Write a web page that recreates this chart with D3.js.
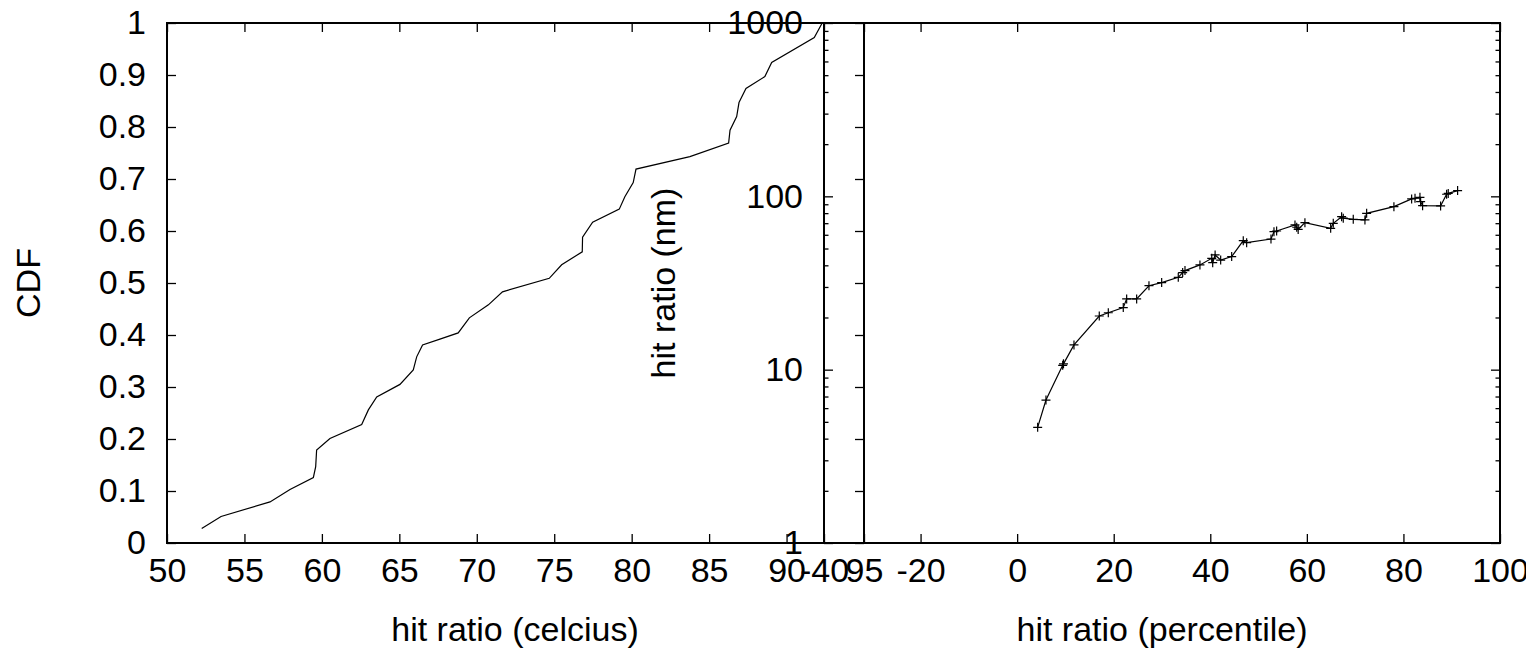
<!DOCTYPE html>
<html lang="en">
<head>
    <meta charset="UTF-8">
    <title>hit ratio</title>
    <script src="https://d3js.org/d3.v7.min.js"></script>
    <style>
        body, html {
            margin: 0;
            padding: 0;
            background: #fff;
            overflow: hidden;
        }
        svg text {
            font-family: "Liberation Sans", Arial, sans-serif;
            fill: #000;
        }
        .axis path.domain { display: none; }
        .axis line { stroke: #000; stroke-width: 1.3; }
    </style>
</head>
<body>
<div id="chart"></div>
<script>
    // left panel: CDF of temperature
    var cdfTemp = [52.24, 53.49, 56.65, 57.94, 59.45, 59.6, 59.66, 60.52, 62.57, 63.0,
        63.54, 65.04, 65.9, 66.12, 66.5, 67.62, 68.8, 69.52, 70.75, 71.66,
        74.68, 75.48, 76.81, 76.83, 77.48, 79.2, 79.56, 80.1, 80.28, 83.76,
        86.26, 86.35, 86.78, 86.93, 87.38, 88.6, 89.04, 91.79, 92.3];
    var cdfValue = [0.028, 0.051, 0.079, 0.103, 0.126, 0.147, 0.179, 0.201, 0.228, 0.256,
        0.281, 0.305, 0.333, 0.358, 0.381, 0.392, 0.404, 0.433, 0.458, 0.483,
        0.509, 0.535, 0.560, 0.588, 0.617, 0.642, 0.666, 0.693, 0.719, 0.743,
        0.769, 0.794, 0.820, 0.847, 0.874, 0.897, 0.924, 0.972, 1.0];

    // right panel: nm vs percentile (log y)
    var pctX = [4.25, 5.97, 9.43, 9.6, 11.77, 17.01, 18.88, 21.98, 22.68, 24.75,
        27.3, 29.93, 33.37, 34.28, 34.76, 37.86, 40.3, 40.5, 41.0, 42.15,
        44.43, 46.83, 47.53, 52.57, 53.19, 53.74, 57.54, 57.9, 58.2, 59.6,
        64.93, 65.47, 67.2, 67.54, 69.61, 72.03, 72.38, 78.03, 81.7, 82.4,
        83.42, 83.56, 83.97, 87.7, 88.94, 89.28, 91.22];
    var pctY = [4.65, 6.68, 10.6, 10.8, 13.9, 20.4, 21.3, 22.8, 25.6, 25.6,
        30.5, 31.8, 34.1, 36.3, 37.3, 40.2, 43.9, 41.4, 45.9, 42.9,
        44.9, 55.5, 54.0, 56.7, 62.5, 63.1, 68.4, 66.3, 64.4, 70.5,
        65.4, 69.9, 76.3, 74.8, 73.7, 73.1, 79.8, 87.2, 96.6, 97.5,
        98.7, 93.1, 88.3, 88.0, 102.8, 104, 107.9];

    var cdfTicks = [0, 0.1, 0.2, 0.3, 0.4, 0.5, 0.6, 0.7, 0.8, 0.9, 1];
    var tempTicks = [50, 55, 60, 65, 70, 75, 80, 85, 90, 95];
    var pctTicks = [-40, -20, 0, 20, 40, 60, 80, 100];
    var logMajor = [1, 10, 100, 1000];
    var logMinor = [2, 3, 4, 5, 6, 7, 8, 9, 20, 30, 40, 50, 60, 70, 80, 90,
        200, 300, 400, 500, 600, 700, 800, 900];

    (function() {
        var W = 1526, H = 648;
        var plotTop = 23, plotBottom = 543;
        var fs = 34;

        var svg = d3.select("#chart").append("svg")
            .attr("width", W)
            .attr("height", H);

        // scales
        var xT = d3.scaleLinear().domain([50, 95]).range([167, 864]);
        var yC = d3.scaleLinear().domain([0, 1]).range([plotBottom, plotTop]);
        var xP = d3.scaleLinear().domain([-40, 100]).range([824, 1500]);
        var yL = d3.scaleLog().domain([1, 1000]).range([plotBottom, plotTop]);

        // plain hyphen minus like gnuplot
        function fmtNum(d) { return String(+(+d).toFixed(2)); }

        function axis(g, ax) {
            var a = svg.append("g").attr("class", "axis")
                .attr("transform", g)
                .call(ax);
            a.selectAll("text").style("font-size", fs + "px");
            return a;
        }

        // left panel axes
        axis("translate(0," + plotBottom + ")",
            d3.axisBottom(xT).tickValues(tempTicks).tickFormat(fmtNum)
                .tickSizeInner(-9).tickSizeOuter(0).tickPadding(15));
        axis("translate(0," + plotTop + ")",
            d3.axisTop(xT).tickValues(tempTicks).tickFormat("")
                .tickSizeInner(-9).tickSizeOuter(0));
        axis("translate(167,0)",
            d3.axisLeft(yC).tickValues(cdfTicks).tickFormat(fmtNum)
                .tickSizeInner(-9).tickSizeOuter(0).tickPadding(21));
        axis("translate(864,0)",
            d3.axisRight(yC).tickValues(cdfTicks).tickFormat("")
                .tickSizeInner(-9).tickSizeOuter(0));

        // right panel axes
        axis("translate(0," + plotBottom + ")",
            d3.axisBottom(xP).tickValues(pctTicks).tickFormat(fmtNum)
                .tickSizeInner(-9).tickSizeOuter(0).tickPadding(15));
        axis("translate(0," + plotTop + ")",
            d3.axisTop(xP).tickValues(pctTicks).tickFormat("")
                .tickSizeInner(-9).tickSizeOuter(0));
        axis("translate(824,0)",
            d3.axisLeft(yL).tickValues(logMajor).tickFormat(fmtNum)
                .tickSizeInner(-9).tickSizeOuter(0).tickPadding(21));
        axis("translate(824,0)",
            d3.axisLeft(yL).tickValues(logMinor).tickFormat("")
                .tickSizeInner(-4.5).tickSizeOuter(0));
        axis("translate(1500,0)",
            d3.axisRight(yL).tickValues(logMajor).tickFormat("")
                .tickSizeInner(-9).tickSizeOuter(0));
        axis("translate(1500,0)",
            d3.axisRight(yL).tickValues(logMinor).tickFormat("")
                .tickSizeInner(-4.5).tickSizeOuter(0));

        // borders of both panels
        [[xT, yC], [xP, yL]].forEach(function(s) {
            var r = s[0].range();
            svg.append("rect")
                .attr("x", r[0]).attr("y", plotTop)
                .attr("width", r[1] - r[0]).attr("height", plotBottom - plotTop)
                .attr("fill", "none")
                .attr("stroke", "#000")
                .attr("stroke-width", 2);
        });

        // CDF line
        var cdfData = cdfTemp.map(function(t, i) { return [t, cdfValue[i]]; });
        svg.append("path")
            .datum(cdfData)
            .attr("fill", "none")
            .attr("stroke", "#000")
            .attr("stroke-width", 1.2)
            .attr("d", d3.line().x(d => xT(d[0])).y(d => yC(d[1])));

        // percentile line with + markers
        var pctData = pctX.map(function(v, i) { return [v, pctY[i]]; });
        svg.append("path")
            .datum(pctData)
            .attr("fill", "none")
            .attr("stroke", "#000")
            .attr("stroke-width", 1.2)
            .attr("d", d3.line().x(d => xP(d[0])).y(d => yL(d[1])));
        svg.selectAll(".pt")
            .data(pctData)
            .enter().append("path")
            .attr("class", "pt")
            .attr("transform", d => "translate(" + xP(d[0]) + "," + yL(d[1]) + ")")
            .attr("d", "M-4.5,0H4.5M0,-4.5V4.5")
            .attr("stroke", "#000")
            .attr("stroke-width", 1.2);

        // axis titles
        svg.append("text")
            .attr("transform", "translate(28,283) rotate(-90)")
            .attr("text-anchor", "middle")
            .attr("dy", "0.35em")
            .style("font-size", "34px")
            .text("CDF");
        svg.append("text")
            .attr("x", 515).attr("y", 641)
            .attr("text-anchor", "middle")
            .style("font-size", "34px")
            .text("hit ratio (celcius)");
        svg.append("text")
            .attr("transform", "translate(663,283) rotate(-90)")
            .attr("text-anchor", "middle")
            .attr("dy", "0.35em")
            .style("font-size", "34px")
            .text("hit ratio (nm)");
        svg.append("text")
            .attr("x", 1162).attr("y", 641)
            .attr("text-anchor", "middle")
            .style("font-size", "34px")
            .text("hit ratio (percentile)");
    })();
</script>
</body>
</html>
